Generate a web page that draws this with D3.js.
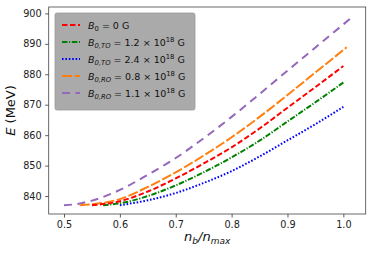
<!DOCTYPE html>
<html>
<head>
<meta charset="utf-8">
<script src="https://cdn.jsdelivr.net/npm/d3@7"></script>
<style>
  body { margin: 0; background: #fff; }
  text { font-family: "DejaVu Sans", sans-serif; }
</style>
</head>
<body>
<div id="vis"></div>
<script>
let WIDTH = 374;
let HEIGHT = 254;
let MARG = {left: 48.7, right: 8.3, top: 7, bottom: 40};

// data
const n_purple = [0.50, 0.52, 0.55, 0.60, 0.65, 0.70, 0.75, 0.80, 0.85, 0.90, 0.95, 1.00, 1.015];
const E_purple = [837.0, 837.3, 838.5, 842.0, 847.0, 852.5, 859.0, 866.0, 873.5, 881.2, 888.8, 896.4, 898.7];
const n_orange = [0.528, 0.55, 0.60, 0.65, 0.70, 0.75, 0.80, 0.85, 0.90, 0.95, 1.00, 1.006];
const E_orange = [837.0, 837.3, 839.0, 843.0, 847.8, 853.3, 859.3, 866.0, 873.2, 880.6, 888.0, 888.9];
const n_red = [0.55, 0.60, 0.65, 0.70, 0.75, 0.80, 0.85, 0.90, 0.95, 1.00];
const E_red = [837.0, 838.3, 841.5, 845.8, 850.7, 856.0, 862.2, 869.0, 875.8, 882.7];
const n_green = [0.57, 0.60, 0.65, 0.70, 0.75, 0.80, 0.85, 0.90, 0.95, 1.00];
const E_green = [837.0, 837.6, 840.0, 843.5, 847.8, 852.7, 858.2, 864.5, 870.8, 877.3];
const n_blue = [0.60, 0.65, 0.70, 0.75, 0.80, 0.85, 0.90, 0.95, 1.00];
const E_blue = [837.0, 838.6, 841.0, 844.3, 848.2, 853.0, 858.3, 863.6, 869.3];

const xTicks = [0.5, 0.6, 0.7, 0.8, 0.9, 1.0];
const yTicks = [840, 850, 860, 870, 880, 890, 900];

// legend order: label parts [B-subscript, value text, exponent]
const series = [
  {n: n_red, E: E_red, color: "#ff0000", dash: "5.5,2.5", sub: "0", val: " = 0 G", exp: null},
  {n: n_green, E: E_green, color: "#008000", dash: "5.5,1.6,1.2,1.6", sub: "0,TO", val: " = 1.2 \u00d7 10", exp: "18"},
  {n: n_blue, E: E_blue, color: "#0000ff", dash: "1.6,1.8", sub: "0,TO", val: " = 2.4 \u00d7 10", exp: "18"},
  {n: n_orange, E: E_orange, color: "#ff7f0e", dash: "10,2.5", sub: "0,RO", val: " = 0.8 \u00d7 10", exp: "18"},
  {n: n_purple, E: E_purple, color: "#9467bd", dash: "8,5.5", sub: "0,RO", val: " = 1.1 \u00d7 10", exp: "18"}
];
// drawing order (purple first, red last on top)
const drawOrder = [4, 3, 2, 1, 0];

let VIS_WIDTH = WIDTH - MARG.left - MARG.right;
let VIS_HEIGHT = HEIGHT - MARG.top - MARG.bottom;

const FRAME = d3.select("#vis")
  .append("svg")
    .attr("width", WIDTH)
    .attr("height", HEIGHT);

const X_SCALE = d3.scaleLinear().domain([0.4726, 1.04]).range([MARG.left, MARG.left + VIS_WIDTH]);
const Y_SCALE = d3.scaleLinear().domain([834.1, 902.1]).range([MARG.top + VIS_HEIGHT, MARG.top]);

const line = d3.line()
  .x(d => X_SCALE(d[0]))
  .y(d => Y_SCALE(d[1]))
  .curve(d3.curveMonotoneX);

drawOrder.forEach(i => {
  const s = series[i];
  FRAME.append("path")
    .datum(s.n.map((v, j) => [v, s.E[j]]))
    .attr("d", line)
    .attr("fill", "none")
    .attr("stroke", s.color)
    .attr("stroke-width", 2)
    .attr("stroke-dasharray", s.dash);
});

// axes
const xAxis = FRAME.append("g")
  .attr("transform", "translate(0," + (MARG.top + VIS_HEIGHT) + ")")
  .call(d3.axisBottom(X_SCALE).tickValues(xTicks).tickFormat(d3.format(".1f")).tickSizeOuter(0).tickSize(3.5).tickPadding(3.5));
const yAxis = FRAME.append("g")
  .attr("transform", "translate(" + MARG.left + ",0)")
  .call(d3.axisLeft(Y_SCALE).tickValues(yTicks).tickFormat(d3.format("d")).tickSizeOuter(0).tickSize(3.5).tickPadding(3.5));
[xAxis, yAxis].forEach(a => {
  a.select(".domain").remove();
  a.selectAll("line").attr("stroke", "#333").attr("stroke-width", 0.8);
  a.selectAll("text").attr("font-size", "9.7px").attr("fill", "#222").attr("font-family", "DejaVu Sans");
});

// frame box
FRAME.append("rect")
  .attr("x", MARG.left)
  .attr("y", MARG.top)
  .attr("width", VIS_WIDTH)
  .attr("height", VIS_HEIGHT)
  .attr("fill", "none")
  .attr("stroke", "#444")
  .attr("stroke-width", 0.8);

// axis labels
const yl = FRAME.append("text")
  .attr("transform", "translate(15," + (MARG.top + VIS_HEIGHT / 2) + ") rotate(-90)")
  .attr("text-anchor", "middle")
  .attr("font-size", "13px")
  .attr("fill", "#111");
yl.append("tspan").attr("font-style", "italic").text("E");
yl.append("tspan").text(" (MeV)");

const xl = FRAME.append("text")
  .attr("x", MARG.left + VIS_WIDTH / 2)
  .attr("y", 241)
  .attr("text-anchor", "middle")
  .attr("font-size", "13px")
  .attr("font-style", "italic")
  .attr("fill", "#111");
xl.append("tspan").text("n");
xl.append("tspan").attr("font-size", "9px").attr("dy", 3).text("b");
xl.append("tspan").attr("dy", -3).text("/n");
xl.append("tspan").attr("font-size", "9px").attr("dy", 3).text("max");

// legend
const LEG = FRAME.append("g");
LEG.append("rect")
  .attr("x", 55)
  .attr("y", 13)
  .attr("width", 140)
  .attr("height", 97)
  .attr("rx", 2)
  .attr("fill", "#aaaaaa")
  .attr("stroke", "#999")
  .attr("stroke-width", 0.8);

series.forEach((s, i) => {
  const yy = 25 + i * 17;
  LEG.append("line")
    .attr("x1", 62).attr("x2", 80)
    .attr("y1", yy).attr("y2", yy)
    .attr("stroke", s.color)
    .attr("stroke-width", 2)
    .attr("stroke-dasharray", s.dash);
  const t = LEG.append("text")
    .attr("x", 88)
    .attr("y", yy + 3.5)
    .attr("font-size", "9.5px")
    .attr("fill", "#111");
  t.append("tspan").attr("font-style", "italic").text("B");
  t.append("tspan").attr("font-size", "6.8px").attr("dy", 2.5)
    .attr("font-style", s.sub === "0" ? "normal" : "italic").text(s.sub);
  t.append("tspan").attr("dy", -2.5).text(s.val);
  if (s.exp) {
    t.append("tspan").attr("font-size", "6.8px").attr("dy", -4).text(s.exp);
    t.append("tspan").attr("dy", 4).text(" G");
  }
});
</script>
</body>
</html>
